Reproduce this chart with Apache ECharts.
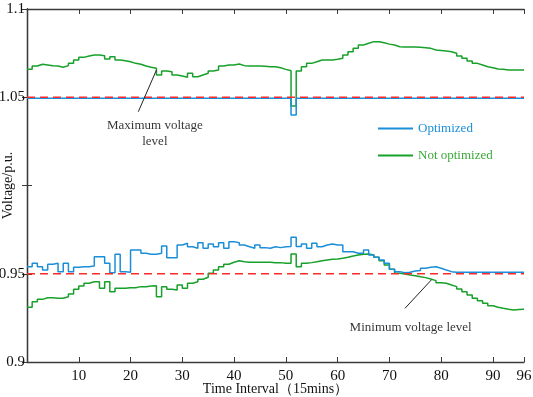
<!DOCTYPE html>
<html>
<head>
<meta charset="utf-8">
<script src="https://cdn.jsdelivr.net/npm/echarts@6/dist/echarts.min.js"></script>
<style>html,body{margin:0;padding:0;background:#fff;}#c{width:533px;height:397px;}</style>
</head>
<body>
<div id="c"></div>
<script>
// ---- data ----
var xTicks = [10, 20, 30, 40, 50, 60, 70, 80, 90, 96];
var yTicks = [0.9, 0.95, 1, 1.05, 1.1];
var yTickLabels = [0.9, 0.95, 1.05, 1.1];
var maxLimit = 1.05;
var minLimit = 0.95;
// interval k holds value[k] from k to k+1 (96 intervals of 15 mins)
var notOptUpper = [
1.0658,1.0677,1.0687,1.0683,1.0679,1.0677,1.0670,1.0679,1.0692,1.0711,
1.0726,1.0734,1.0739,1.0739,1.0735,1.0717,1.0730,1.0711,1.0707,1.0701,
1.0692,1.0687,1.0677,1.0670,1.0664,1.0626,1.0649,1.0645,1.0626,1.0620,
1.0613,1.0636,1.0616,1.0626,1.0636,1.0649,1.0654,1.0677,1.0683,1.0683,
1.0688,1.0679,1.0677,1.0677,1.0677,1.0675,1.0673,1.0673,1.0667,1.0658,
1.0650,1.0450,1.0649,1.0673,1.0692,1.0701,1.0711,1.0711,1.0711,1.0715,
1.0721,1.0739,1.0758,1.0777,1.0796,1.0806,1.0815,1.0815,1.0809,1.0801,
1.0796,1.0786,1.0785,1.0785,1.0785,1.0783,1.0781,1.0777,1.0768,1.0765,
1.0762,1.0758,1.0749,1.0734,1.0721,1.0705,1.0692,1.0683,1.0673,1.0667,
1.0660,1.0658,1.0654,1.0654,1.0654,1.0654];
var optUpper = [
1.0495,1.0495,1.0495,1.0495,1.0495,1.0495,1.0495,1.0495,1.0495,1.0495,
1.0495,1.0495,1.0495,1.0495,1.0495,1.0495,1.0495,1.0495,1.0495,1.0495,
1.0495,1.0495,1.0495,1.0495,1.0495,1.0495,1.0495,1.0495,1.0495,1.0495,
1.0495,1.0495,1.0495,1.0495,1.0495,1.0495,1.0495,1.0495,1.0495,1.0495,
1.0495,1.0495,1.0495,1.0495,1.0495,1.0495,1.0495,1.0495,1.0495,1.0495,
1.0495,1.0400,1.0495,1.0495,1.0495,1.0495,1.0495,1.0495,1.0495,1.0495,
1.0495,1.0495,1.0495,1.0495,1.0495,1.0495,1.0495,1.0495,1.0495,1.0495,
1.0495,1.0495,1.0495,1.0495,1.0495,1.0495,1.0495,1.0495,1.0495,1.0495,
1.0495,1.0495,1.0495,1.0495,1.0495,1.0495,1.0495,1.0495,1.0495,1.0495,
1.0495,1.0495,1.0495,1.0495,1.0495,1.0495];
var optLower = [
0.9540,0.9559,0.9540,0.9521,0.9554,0.9559,0.9512,0.9559,0.9512,0.9537,
0.9540,0.9540,0.9544,0.9597,0.9597,0.9559,0.9506,0.9610,0.9512,0.9508,
0.9635,0.9635,0.9616,0.9610,0.9610,0.9616,0.9657,0.9591,0.9591,0.9663,
0.9673,0.9653,0.9644,0.9676,0.9644,0.9669,0.9653,0.9676,0.9644,0.9682,
0.9676,0.9663,0.9653,0.9644,0.9663,0.9648,0.9644,0.9653,0.9648,0.9653,
0.9655,0.9707,0.9655,0.9669,0.9644,0.9673,0.9653,0.9663,0.9669,0.9663,
0.9663,0.9625,0.9625,0.9616,0.9616,0.9635,0.9606,0.9593,0.9578,0.9559,
0.9525,0.9512,0.9506,0.9508,0.9516,0.9518,0.9531,0.9537,0.9540,0.9531,
0.9521,0.9512,0.9508,0.9508,0.9508,0.9508,0.9508,0.9508,0.9508,0.9508,
0.9508,0.9508,0.9508,0.9508,0.9508,0.9508];
var notOptLower = [
0.9310,0.9342,0.9355,0.9364,0.9364,0.9361,0.9361,0.9370,0.9385,0.9412,
0.9431,0.9446,0.9455,0.9455,0.9418,0.9455,0.9398,0.9418,0.9418,0.9421,
0.9421,0.9427,0.9427,0.9431,0.9432,0.9370,0.9427,0.9412,0.9408,0.9436,
0.9418,0.9446,0.9455,0.9469,0.9480,0.9503,0.9521,0.9540,0.9554,0.9565,
0.9574,0.9568,0.9565,0.9565,0.9565,0.9565,0.9565,0.9563,0.9563,0.9559,
0.9559,0.9612,0.9540,0.9559,0.9563,0.9568,0.9574,0.9578,0.9582,0.9584,
0.9588,0.9593,0.9601,0.9606,0.9610,0.9612,0.9606,0.9593,0.9574,0.9550,
0.9525,0.9503,0.9499,0.9493,0.9489,0.9483,0.9478,0.9470,0.9461,0.9449,
0.9446,0.9436,0.9427,0.9414,0.9398,0.9380,0.9361,0.9347,0.9333,0.9319,
0.9310,0.9304,0.9299,0.9295,0.9297,0.9299];
// annotations (data coordinates)
var maxLeader = [[21.5, 1.0418], [25.0, 1.0654]];
var minLeader = [[73.0, 0.9304], [78.1, 0.9465]];
var maxText = {x: 24.7, y: 1.0292, text: 'Maximum voltage\nlevel'};
var minText = {x: 74.1, y: 0.9193, text: 'Minimum voltage level'};

// ---- chart ----
var BLUE = '#1a8fd8', GREEN = '#17a02a', RED = '#ff2a2a';
var FONT = 'Liberation Serif';
function stepData(arr) {
  var out = [];
  for (var k = 0; k < arr.length; k++) out.push([k, arr[k]]);
  out.push([arr.length, arr[arr.length - 1]]);
  return out;
}
function limitData(v) { return [[0, v], [96, v]]; }

var chart = echarts.init(document.getElementById('c'), null, {renderer: 'canvas'});
var axisLineStyle = {color: '#3a3a3a', width: 1.3};
var option = {
  animation: false,
  backgroundColor: '#fff',
  grid: {left: 27, right: 9, top: 9, bottom: 35, containLabel: false, outerBoundsMode: 'none'},
  legend: {
    orient: 'vertical', left: 373, top: 117, itemGap: 14,
    itemWidth: 35, itemHeight: 2, icon: 'rect',
    textStyle: {fontFamily: FONT, fontSize: 13},
    data: [
      {name: 'Optimized', textStyle: {color: BLUE}},
      {name: 'Not optimized', textStyle: {color: '#3aa83a'}}
    ]
  },
  xAxis: [{
    type: 'value', min: 0, max: 96, interval: 10,
    name: 'Time Interval（15mins）', nameLocation: 'middle', nameGap: 20, nameMoveOverlap: false,
    nameTextStyle: {fontFamily: FONT, fontSize: 14, color: '#111'},
    axisLine: {lineStyle: axisLineStyle},
    axisTick: {inside: true, length: 5, customValues: xTicks, lineStyle: {color: '#3a3a3a'}},
    axisLabel: {customValues: xTicks, margin: 7, fontFamily: FONT, fontSize: 15, color: '#111'},
    splitLine: {show: false}
  }, {
    type: 'value', min: 0, max: 96, interval: 10, position: 'top',
    axisLine: {lineStyle: axisLineStyle},
    axisTick: {inside: true, length: 5, customValues: xTicks, lineStyle: {color: '#3a3a3a'}},
    axisLabel: {show: false}, splitLine: {show: false}
  }],
  yAxis: [{
    type: 'value', min: 0.9, max: 1.1, interval: 0.05,
    name: 'Voltage/p.u.', nameLocation: 'middle', nameGap: 12, nameMoveOverlap: false,
    nameTextStyle: {fontFamily: FONT, fontSize: 14, color: '#111'},
    axisLine: {show: true, lineStyle: axisLineStyle},
    axisTick: {show: true, inside: true, length: 5, customValues: yTicks, lineStyle: {color: '#3a3a3a'}},
    axisLabel: {customValues: yTickLabels, margin: 2, fontFamily: FONT, fontSize: 15, color: '#111'},
    splitLine: {show: false}
  }, {
    type: 'value', min: 0.9, max: 1.1, interval: 0.05, position: 'right',
    axisLine: {show: true, lineStyle: axisLineStyle},
    axisTick: {show: true, inside: true, length: 5, customValues: yTicks, lineStyle: {color: '#3a3a3a'}},
    axisLabel: {show: false}, splitLine: {show: false}
  }],
  series: [
    {name: 'Not optimized', type: 'line', step: 'end', showSymbol: false, symbol: 'none',
     data: stepData(notOptUpper), lineStyle: {color: GREEN, width: 1.5}, itemStyle: {color: GREEN}},
    {name: 'Not optimized', type: 'line', step: 'end', showSymbol: false, symbol: 'none',
     data: stepData(notOptLower), lineStyle: {color: GREEN, width: 1.5}, itemStyle: {color: GREEN}},
    {name: 'Optimized', type: 'line', step: 'end', showSymbol: false, symbol: 'none',
     data: stepData(optUpper), lineStyle: {color: BLUE, width: 1.5}, itemStyle: {color: BLUE}},
    {name: 'Optimized', type: 'line', step: 'end', showSymbol: false, symbol: 'none',
     data: stepData(optLower), lineStyle: {color: BLUE, width: 1.5}, itemStyle: {color: BLUE}},
    {name: 'maxLimit', type: 'line', symbol: 'none', data: limitData(maxLimit),
     lineStyle: {color: RED, width: 1.5, type: [8, 5]}},
    {name: 'minLimit', type: 'line', symbol: 'none', data: limitData(minLimit),
     lineStyle: {color: RED, width: 1.5, type: [8, 5]}},
    {name: 'maxLeader', type: 'line', symbol: 'none', data: maxLeader, silent: true,
     lineStyle: {color: '#222', width: 1}},
    {name: 'minLeader', type: 'line', symbol: 'none', data: minLeader, silent: true,
     lineStyle: {color: '#222', width: 1}},
    {name: 'notes', type: 'scatter', symbolSize: 0, silent: true,
     data: [
       {value: [maxText.x, maxText.y], label: {formatter: maxText.text}},
       {value: [minText.x, minText.y], label: {formatter: minText.text}}
     ],
     label: {show: true, position: 'inside', fontFamily: FONT, fontSize: 13, color: '#000',
             align: 'center', verticalAlign: 'middle', lineHeight: 16}}
  ]
};
chart.setOption(option);
</script>
</body>
</html>
